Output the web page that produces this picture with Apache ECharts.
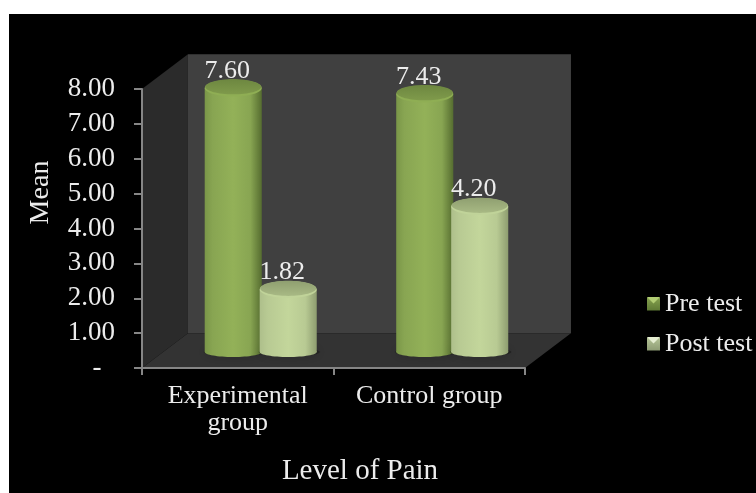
<!DOCTYPE html>
<html>
<head>
<meta charset="utf-8">
<style>
  html, body { margin: 0; padding: 0; background: #fff; width: 756px; height: 493px; overflow: hidden; }
  #chart { position: absolute; left: 9px; top: 14px; width: 747px; height: 479px; background: #000; }
</style>
<script src="https://cdn.jsdelivr.net/npm/echarts@6/dist/echarts.min.js"></script>
</head>
<body>
<div id="chart"></div>
<script>
const categories = ['Experimental\ngroup', 'Control group'];
const seriesNames = ['Pre test', 'Post test'];
const preTest = [7.60, 7.43];
const postTest = [1.82, 4.20];
const valueTicks = { min: 0, max: 8, interval: 1 };

const textFont = '"Liberation Serif", "DejaVu Serif", serif';
const textColor = '#ececec';

// Share of the plot used for the receding floor and side wall.
const DEPTH_X = 0.12;
const DEPTH_Y = 0.125;

function vGrad(a, b) {
  return { type: 'linear', x: 0, y: 0, x2: 0, y2: 1, colorStops: [{ offset: 0, color: a }, { offset: 1, color: b }] };
}
function hGrad(edgeL, mid, edgeR) {
  return {
    type: 'linear', x: 0, y: 0, x2: 1, y2: 0,
    colorStops: [
      { offset: 0, color: edgeL }, { offset: 0.14, color: mid[0] },
      { offset: 0.5, color: mid[1] }, { offset: 0.8, color: mid[0] },
      { offset: 1, color: edgeR }
    ]
  };
}

const palettes = [
  {
    body: hGrad('#7a9648', ['#88a552', '#93b158'], '#566d30'),
    capRim: '#8fae54', cap: vGrad('#6d8740', '#7f9a4b')
  },
  {
    body: hGrad('#aebf8b', ['#b8ca93', '#c3d69b'], '#8e9d70'),
    capRim: '#c0d399', cap: vGrad('#8f9f70', '#a8b984')
  }
];

// Back wall, side wall and floor of the 3D box, taken from the grid rectangle.
function renderBox(params, api) {
  const r = params.coordSys;
  const dx = r.width * DEPTH_X, dy = r.height * DEPTH_Y;
  const L = r.x, R = r.x + r.width, T = r.y, B = r.y + r.height;
  return {
    type: 'group',
    children: [
      { type: 'rect', shape: { x: L + dx, y: T - dy, width: r.width, height: r.height }, style: { fill: '#404040' } },
      { type: 'polygon', shape: { points: [[L, T], [L + dx, T - dy], [L + dx, B - dy], [L, B]] }, style: { fill: '#2b2b2b' } },
      { type: 'polygon', shape: { points: [[L, B], [R, B], [R + dx, B - dy], [L + dx, B - dy]] }, style: { fill: '#333333' } }
    ]
  };
}

// One cylinder: floor shadow, body, rounded foot, cap and value label.
function cylinderRenderer(seriesIndex, side) {
  return function (params, api) {
    const r = params.coordSys;
    const cat = api.value(0), val = api.value(1);
    const dx = r.width * DEPTH_X, dy = r.height * DEPTH_Y;
    const band = api.size([1, 0])[0];
    const w = band * 0.298, rx = w / 2;
    const base = api.coord([cat, 0]);
    const top = api.coord([cat, val]);
    const cx = base[0] + dx / 2 + side * band * 0.1435;
    const by = base[1] - dy * 0.46;
    const ty = top[1] - dy * 0.43;
    const p = palettes[seriesIndex];
    return {
      type: 'group',
      children: [
        { type: 'ellipse', shape: { cx: cx + 1, cy: by, rx: rx + 2, ry: 4.5 }, style: { fill: 'rgba(0,0,0,0.3)', shadowBlur: 10, shadowColor: 'rgba(0,0,0,0.7)' } },
        { type: 'ellipse', shape: { cx: cx, cy: by, rx: rx, ry: 5 }, style: { fill: p.body } },
        { type: 'rect', shape: { x: cx - rx, y: ty, width: w, height: by - ty }, style: { fill: p.body } },
        { type: 'ellipse', shape: { cx: cx, cy: ty, rx: rx, ry: 8.5 }, style: { fill: p.capRim } },
        { type: 'ellipse', shape: { cx: cx, cy: ty - 1.2, rx: rx - 0.5, ry: 7.6 }, style: { fill: p.cap } },
        {
          type: 'text',
          style: {
            text: val.toFixed(2), x: cx - 6, y: ty - 17, align: 'center', verticalAlign: 'middle',
            fill: textColor, font: '26px ' + textFont
          }
        }
      ]
    };
  };
}

function seriesData(values) {
  return values.map((v, i) => [i, v]);
}

// Lighter top facet on a bevelled legend swatch.
function swatchFacet(x, y, color) {
  return {
    type: 'polygon', z: 10, silent: true,
    shape: { points: [[x, y], [x + 13, y], [x + 6.5, y + 6.5]] },
    style: { fill: color }
  };
}

const chart = echarts.init(document.getElementById('chart'), null, { renderer: 'canvas' });
chart.setOption({
  backgroundColor: '#000',
  animation: false,
  grid: { left: 133, top: 75, width: 383, height: 279, containLabel: false },
  legend: {
    orient: 'vertical', left: 638, top: 277, itemWidth: 13, itemHeight: 13, itemGap: 14, padding: 0,
    selectedMode: false,
    textStyle: { color: textColor, fontFamily: textFont, fontSize: 26, lineHeight: 26 },
    data: [
      { name: seriesNames[0], icon: 'rect', itemStyle: { color: vGrad('#85a14f', '#5f7a35') } },
      { name: seriesNames[1], icon: 'rect', itemStyle: { color: vGrad('#b5c497', '#8e9c74') } }
    ]
  },
  graphic: [
    swatchFacet(638, 283, '#b2cd74'),
    swatchFacet(638, 323, '#e6eed2')
  ],
  xAxis: {
    type: 'category', data: categories, z: 3,
    axisLine: { lineStyle: { color: '#868686', width: 2 } },
    axisTick: { show: true, alignWithLabel: false, length: 7, lineStyle: { color: '#868686', width: 2 } },
    axisLabel: { color: textColor, fontFamily: textFont, fontSize: 26, lineHeight: 27, margin: 15, interval: 0 },
    name: 'Level of Pain', nameLocation: 'middle', nameGap: 89,
    nameTextStyle: { color: textColor, fontFamily: textFont, fontSize: 29, padding: [0, 0, 0, 53] }
  },
  yAxis: {
    type: 'value', min: valueTicks.min, max: valueTicks.max, interval: valueTicks.interval, z: 3,
    splitLine: { show: false },
    axisLine: { show: true, lineStyle: { color: '#868686', width: 2 } },
    axisTick: { show: true, length: 8, lineStyle: { color: '#868686', width: 2 } },
    axisLabel: {
      color: textColor, fontFamily: textFont, fontSize: 27, margin: 27,
      formatter: v => (v === 0 ? '-  ' : v.toFixed(2))
    },
    name: 'Mean', nameLocation: 'middle', nameGap: 87, nameRotate: 90,
    nameTextStyle: { color: textColor, fontFamily: textFont, fontSize: 28, padding: [0, 0, 0, 72] }
  },
  series: [
    { type: 'custom', name: '__box', silent: true, z: 1, data: [[0, 0]], renderItem: renderBox, encode: { x: 0, y: 1 } },
    { type: 'custom', name: seriesNames[0], z: 4, data: seriesData(preTest), renderItem: cylinderRenderer(0, -1), encode: { x: 0, y: 1 } },
    { type: 'custom', name: seriesNames[1], z: 5, data: seriesData(postTest), renderItem: cylinderRenderer(1, 1), encode: { x: 0, y: 1 } }
  ]
});
</script>
</body>
</html>
